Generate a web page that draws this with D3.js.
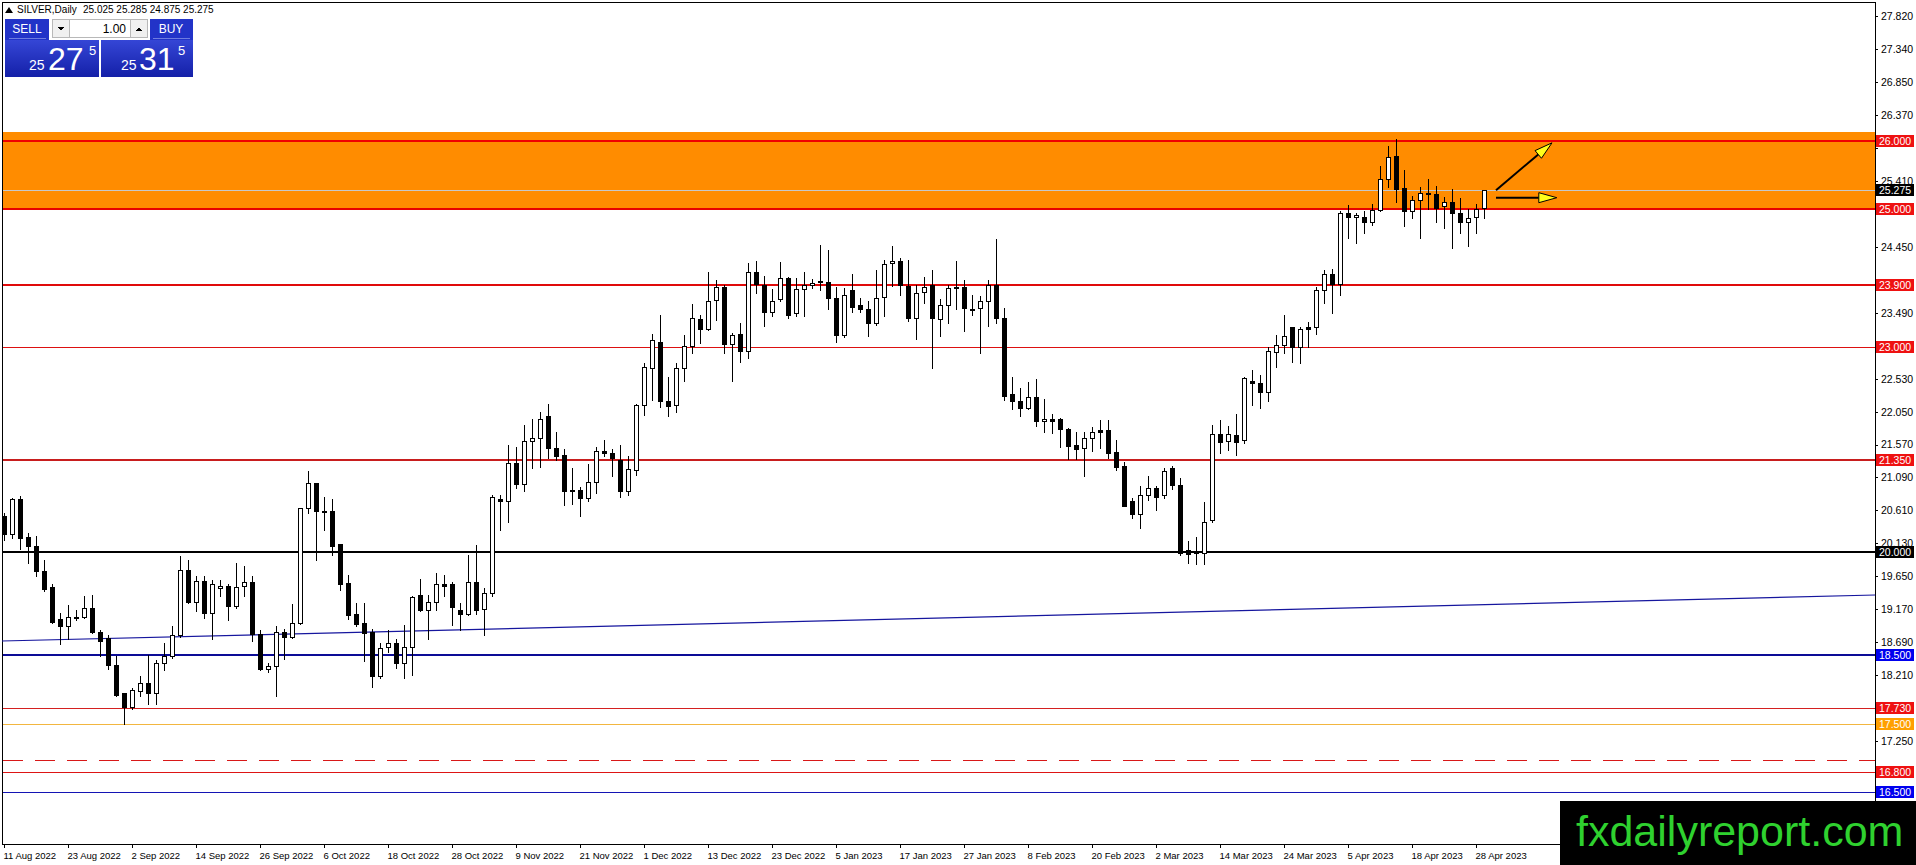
<!DOCTYPE html>
<html>
<head>
<meta charset="utf-8">
<script src="https://cdn.jsdelivr.net/npm/d3@7/dist/d3.min.js"></script>
<style>
  html, body { margin: 0; padding: 0; background: #fff; overflow: hidden; }
  svg { display: block; font-family: "Liberation Sans", Arial, sans-serif; }
</style>
</head>
<body>
<svg id="vis" width="1916" height="865"></svg>
<script>
// SILVER daily bars, 11 Aug 2022 .. 1 May 2023
const opens = [
  20.53, 20.26, 20.77, 20.22, 20.09, 19.73, 19.50, 19.02, 18.93, 19.05,
  19.06, 19.19, 18.84, 18.75, 18.36, 17.95, 17.74, 17.97, 18.09, 17.95,
  18.38, 18.48, 18.80, 19.74, 19.27, 19.58, 19.11, 19.48, 19.51, 19.21,
  19.51, 19.57, 18.81, 18.30, 18.34, 18.84, 18.76, 18.97, 20.64, 21.01,
  20.60, 20.60, 20.12, 19.55, 19.10, 18.97, 18.83, 18.19, 18.62, 18.67,
  18.39, 18.62, 19.37, 19.16, 19.28, 19.54, 19.54, 19.16, 19.10, 19.57,
  19.17, 19.40, 20.77, 20.74, 21.30, 20.99, 21.62, 21.66, 21.98, 21.52,
  21.42, 20.91, 20.91, 20.79, 21.03, 21.47, 21.45, 21.35, 20.89, 21.20,
  22.15, 22.69, 23.06, 22.20, 22.14, 22.69, 23.01, 23.40, 23.25, 23.68,
  23.87, 23.03, 23.18, 22.94, 24.08, 23.89, 23.50, 23.69, 24.00, 23.49,
  23.84, 23.90, 23.95, 23.94, 23.71, 23.17, 23.83, 23.61, 23.55, 23.35,
  23.72, 24.22, 24.25, 23.88, 23.41, 23.79, 23.89, 23.40, 23.61, 23.87,
  23.87, 23.55, 23.56, 23.66, 23.89, 23.41, 22.31, 22.21, 22.10, 22.26,
  21.91, 21.94, 21.94, 21.80, 21.57, 21.52, 21.67, 21.78, 21.78, 21.46,
  21.26, 20.74, 20.56, 20.84, 20.93, 20.83, 21.23, 20.98, 20.03, 19.99,
  19.99, 20.47, 21.73, 21.62, 21.71, 21.63, 22.49, 22.47, 22.33, 22.92,
  23.02, 23.28, 23.00, 23.28, 23.28, 23.83, 24.06, 23.91, 24.94, 24.89,
  24.89, 24.81, 24.99, 25.44, 25.78, 25.31, 24.98, 25.13, 25.24, 25.23,
  25.05, 25.11, 24.95, 24.81, 24.89, 25.025
];
const highs = [
  20.57, 20.79, 20.82, 20.28, 20.24, 19.89, 19.53, 19.11, 19.23, 19.16,
  19.36, 19.38, 18.87, 18.80, 18.48, 17.95, 18.02, 18.19, 18.50, 18.43,
  18.67, 18.92, 19.95, 19.89, 19.65, 19.65, 19.60, 19.60, 19.53, 19.84,
  19.80, 19.66, 18.87, 18.38, 18.92, 18.88, 19.24, 20.65, 21.18, 21.01,
  20.81, 20.77, 20.12, 19.67, 19.26, 19.26, 18.88, 18.67, 18.87, 18.73,
  18.94, 19.36, 19.61, 19.38, 19.70, 19.67, 19.57, 19.26, 19.96, 20.11,
  19.48, 20.84, 20.84, 21.57, 21.54, 21.85, 21.95, 22.05, 22.16, 21.75,
  21.50, 21.23, 20.95, 21.28, 21.54, 21.64, 21.50, 21.57, 21.40, 22.16,
  22.76, 23.18, 23.46, 22.56, 22.76, 23.17, 23.62, 23.46, 24.08, 23.97,
  23.90, 23.20, 23.34, 24.22, 24.24, 24.03, 23.84, 24.23, 24.01, 24.00,
  24.09, 23.98, 24.48, 24.40, 23.87, 23.85, 24.05, 23.71, 23.66, 24.12,
  24.26, 24.46, 24.29, 24.26, 23.89, 24.01, 24.11, 23.69, 23.89, 24.24,
  23.97, 23.75, 23.74, 23.97, 24.57, 23.56, 22.56, 22.39, 22.48, 22.52,
  22.23, 22.02, 21.96, 21.81, 21.75, 21.75, 21.83, 21.93, 21.93, 21.64,
  21.32, 20.79, 20.96, 21.11, 20.97, 21.23, 21.26, 21.08, 20.17, 20.22,
  20.73, 21.85, 21.93, 21.84, 22.02, 22.56, 22.66, 22.58, 23.00, 23.17,
  23.46, 23.29, 23.29, 23.36, 23.87, 24.11, 24.13, 24.98, 25.07, 24.95,
  24.98, 25.08, 25.63, 25.92, 26.02, 25.57, 25.20, 25.33, 25.44, 25.34,
  25.18, 25.29, 25.16, 25.00, 25.08, 25.285
];
const lows = [
  20.18, 20.21, 20.04, 19.85, 19.65, 19.43, 18.97, 18.66, 18.73, 19.01,
  19.04, 18.82, 18.48, 18.29, 17.90, 17.50, 17.71, 17.90, 17.78, 17.78,
  18.28, 18.46, 18.77, 19.26, 19.14, 19.04, 18.73, 19.36, 19.01, 19.19,
  19.36, 18.71, 18.28, 18.26, 17.91, 18.44, 18.75, 18.96, 20.57, 19.89,
  20.32, 19.96, 19.45, 19.02, 18.92, 18.41, 18.03, 18.17, 18.55, 18.31,
  18.17, 18.21, 19.14, 18.73, 19.16, 19.36, 18.94, 18.87, 19.09, 19.10,
  18.80, 19.36, 20.33, 20.44, 20.94, 20.90, 21.23, 21.24, 21.37, 21.35,
  20.69, 20.71, 20.53, 20.74, 20.86, 21.40, 21.11, 20.81, 20.84, 21.13,
  22.00, 22.22, 22.12, 21.98, 22.04, 22.49, 22.90, 23.05, 23.24, 23.39,
  22.90, 22.49, 22.77, 22.83, 23.78, 23.30, 23.45, 23.66, 23.41, 23.45,
  23.45, 23.86, 23.82, 23.54, 23.06, 23.14, 23.51, 23.51, 23.15, 23.32,
  23.44, 23.88, 23.75, 23.37, 23.11, 23.64, 22.69, 23.15, 23.34, 23.55,
  23.23, 23.46, 22.91, 23.30, 23.35, 22.22, 22.09, 21.98, 22.09, 21.84,
  21.76, 21.74, 21.54, 21.36, 21.36, 21.11, 21.48, 21.52, 21.37, 21.20,
  20.67, 20.50, 20.35, 20.76, 20.61, 20.79, 20.92, 19.96, 19.84, 19.83,
  19.83, 20.44, 21.44, 21.49, 21.42, 21.60, 22.15, 22.10, 22.21, 22.70,
  22.91, 22.78, 22.76, 23.00, 23.18, 23.63, 23.49, 23.75, 24.58, 24.51,
  24.65, 24.77, 24.97, 25.33, 25.11, 24.75, 24.87, 24.58, 25.00, 24.82,
  24.73, 24.43, 24.66, 24.46, 24.65, 24.875
];
const closes = [
  20.26, 20.77, 20.21, 20.09, 19.72, 19.47, 18.98, 18.93, 19.06, 19.06,
  19.19, 18.84, 18.71, 18.36, 17.92, 17.75, 17.99, 18.09, 17.95, 18.38,
  18.48, 18.80, 19.74, 19.27, 19.58, 19.11, 19.53, 19.51, 19.21, 19.49,
  19.57, 18.81, 18.29, 18.34, 18.83, 18.76, 18.97, 20.64, 21.01, 20.60,
  20.58, 20.09, 19.54, 19.09, 18.96, 18.82, 18.20, 18.60, 18.67, 18.39,
  18.62, 19.35, 19.16, 19.28, 19.53, 19.51, 19.20, 19.10, 19.56, 19.16,
  19.40, 20.80, 20.74, 21.30, 20.99, 21.62, 21.66, 21.95, 21.52, 21.41,
  20.90, 20.90, 20.79, 21.03, 21.47, 21.44, 21.37, 20.89, 21.21, 22.15,
  22.70, 23.10, 22.20, 22.13, 22.69, 23.01, 23.41, 23.25, 23.67, 23.87,
  23.03, 23.17, 22.93, 24.08, 23.91, 23.50, 23.66, 24.00, 23.46, 23.84,
  23.90, 23.93, 23.96, 23.71, 23.17, 23.75, 23.58, 23.55, 23.35, 23.71,
  24.21, 24.25, 23.89, 23.41, 23.78, 23.87, 23.41, 23.61, 23.85, 23.85,
  23.56, 23.53, 23.66, 23.89, 23.41, 22.28, 22.20, 22.10, 22.26, 21.91,
  21.94, 21.92, 21.80, 21.55, 21.50, 21.66, 21.75, 21.76, 21.45, 21.24,
  20.68, 20.56, 20.84, 20.93, 20.81, 21.19, 20.98, 19.99, 19.98, 20.00,
  20.44, 21.73, 21.61, 21.73, 21.61, 22.54, 22.47, 22.33, 22.93, 23.02,
  23.15, 23.00, 23.26, 23.26, 23.83, 24.06, 23.91, 24.94, 24.89, 24.92,
  24.81, 24.99, 25.44, 25.76, 25.29, 24.98, 25.14, 25.24, 25.22, 25.02,
  25.11, 24.95, 24.81, 24.87, 25.00, 25.275
];

const dateLabels = [
  '11 Aug 2022', '23 Aug 2022', '2 Sep 2022', '14 Sep 2022', '26 Sep 2022', '6 Oct 2022',
  '18 Oct 2022', '28 Oct 2022', '9 Nov 2022', '21 Nov 2022', '1 Dec 2022', '13 Dec 2022',
  '23 Dec 2022', '5 Jan 2023', '17 Jan 2023', '27 Jan 2023', '8 Feb 2023', '20 Feb 2023',
  '2 Mar 2023', '14 Mar 2023', '24 Mar 2023', '5 Apr 2023', '18 Apr 2023', '28 Apr 2023'
];
const dateLabelBars = dateLabels.map((d, i) => i * 8);

const priceTicks = [
  27.82, 27.34, 26.85, 26.37, 25.89, 25.41, 24.93, 24.45, 23.97, 23.49, 23.01, 22.53, 22.05,
  21.57, 21.09, 20.61, 20.13, 19.65, 19.17, 18.69, 18.21, 17.73, 17.25, 16.77, 16.29
];

// horizontal levels drawn on the chart
const levelPrices = [26.0, 25.0, 23.9, 23.0, 21.35, 20.0, 18.5, 17.73, 17.5, 16.8, 16.5];
const dashedLevel = 16.97;
const zone = [24.985, 26.128];
const trendFrom = [-0.25, 18.705];
const trendTo = [233.9, 19.376];
const arrows = [
  {from: [186.5, 25.28], to: [193.5, 25.97]},
  {from: [186.5, 25.17], to: [194.1, 25.17]},
];
const symbol = 'SILVER,Daily';
const lotSize = '1.00';
const spread = 0.04;

const levelStyle = {
  26.0:  {line: '#f00000', w: 2, box: '#ee1111'},
  25.0:  {line: '#e80000', w: 2, box: '#ee1111'},
  23.9:  {line: '#e00a0a', w: 2, box: '#ee1111'},
  23.0:  {line: '#dd1111', w: 1, box: '#ee1111'},
  21.35: {line: '#c81e1e', w: 2, box: '#ee1111'},
  20.0:  {line: '#000000', w: 2, box: '#000000'},
  18.5:  {line: '#0c0c96', w: 2, box: '#0000ee'},
  17.73: {line: '#d42020', w: 1, box: '#ee1111'},
  17.5:  {line: '#f2b640', w: 1, box: '#ffa000'},
  16.8:  {line: '#dd1515', w: 1, box: '#ee1111'},
  16.5:  {line: '#1414b4', w: 1, box: '#0000ee'},
};

const plotLeft = 2, plotRight = 1875, plotTop = 2, plotBottom = 844;
const logoTop = 801;

const vis = d3.select('#vis');
const x = d3.scaleLinear().domain([0, 185]).range([4, 1484]);
const y = d3.scaleLinear().domain([15.745, 28.053]).range([plotBottom, 0]);
const fmt = d3.format('.3f');
const py = p => Math.round(y(p));
const last = opens.length - 1;

// tick labels that sit under a price tag or the logo are hidden, as in the terminal
const tagPrices = levelPrices.concat([closes[last]]);
const visibleTicks = priceTicks.filter(t =>
  tagPrices.every(p => Math.abs(y(t) - y(p)) > 8) && y(t) < logoTop - 8);

// orange zone
vis.append('rect')
    .attr('x', plotLeft)
    .attr('y', py(zone[1]))
    .attr('width', plotRight - plotLeft)
    .attr('height', py(zone[0]) - py(zone[1]))
    .attr('fill', '#ff8c00');

// price axis
const yAxis = vis.append('g')
    .attr('transform', `translate(${plotRight},0)`)
    .call(d3.axisRight(y).tickValues(priceTicks).tickFormat(fmt).tickSize(3).tickPadding(3))
    .call(g => g.select('.domain').remove());
yAxis.selectAll('.tick text')
    .filter(d => visibleTicks.indexOf(d) < 0)
    .remove();
yAxis.selectAll('text')
    .attr('font-family', '"Liberation Sans", Arial, sans-serif')
    .attr('font-size', 10.5)
    .attr('fill', '#000');
yAxis.selectAll('line').attr('stroke', '#000').attr('shape-rendering', 'crispEdges');

// date axis
const xAxis = vis.append('g')
    .attr('transform', `translate(0,${plotBottom})`)
    .call(d3.axisBottom(x).tickValues(dateLabelBars).tickFormat((d, i) => dateLabels[i]).tickSize(4).tickPadding(4))
    .call(g => g.select('.domain').remove());
xAxis.selectAll('text')
    .attr('text-anchor', 'start')
    .attr('dx', -1)
    .attr('font-family', '"Liberation Sans", Arial, sans-serif')
    .attr('font-size', 9.5)
    .attr('fill', '#000');
xAxis.selectAll('line').attr('stroke', '#000').attr('shape-rendering', 'crispEdges');

// frame
vis.append('rect')
    .attr('x', plotLeft + 0.5)
    .attr('y', plotTop + 0.5)
    .attr('width', plotRight - plotLeft)
    .attr('height', plotBottom - plotTop)
    .attr('fill', 'none')
    .attr('stroke', '#000')
    .attr('shape-rendering', 'crispEdges');

// level lines
const levels = vis.append('g').attr('shape-rendering', 'crispEdges');
levelPrices.forEach(p => {
  const s = levelStyle[p];
  const yy = s.w === 1 ? py(p) + 0.5 : py(p);
  levels.append('line')
      .attr('x1', plotLeft + 1).attr('x2', plotRight)
      .attr('y1', yy).attr('y2', yy)
      .attr('stroke', s.line)
      .attr('stroke-width', s.w);
});
levels.append('line')
    .attr('x1', plotLeft + 1).attr('x2', plotRight)
    .attr('y1', py(dashedLevel) + 0.5).attr('y2', py(dashedLevel) + 0.5)
    .attr('stroke', '#d81818')
    .attr('stroke-dasharray', '20,12');

// current price line
levels.append('line')
    .attr('x1', plotLeft + 1).attr('x2', plotRight)
    .attr('y1', py(closes[last]) + 0.5).attr('y2', py(closes[last]) + 0.5)
    .attr('stroke', '#c8c8c8');

// trend line
vis.append('line')
    .attr('x1', x(trendFrom[0])).attr('y1', y(trendFrom[1]))
    .attr('x2', x(trendTo[0])).attr('y2', y(trendTo[1]))
    .attr('stroke', '#16169e')
    .attr('stroke-width', 1.2);

// candles
const bars = d3.range(opens.length).map(i => ({
  i: i, o: opens[i], h: highs[i], l: lows[i], c: closes[i],
}));
const candles = vis.append('g').attr('shape-rendering', 'crispEdges');
candles.selectAll('line')
  .data(bars).enter().append('line')
    .attr('x1', d => x(d.i) + 0.5)
    .attr('x2', d => x(d.i) + 0.5)
    .attr('y1', d => py(d.h))
    .attr('y2', d => py(d.l) + 1)
    .attr('stroke', '#000');
candles.selectAll('rect')
  .data(bars).enter().append('rect')
    .attr('x', d => x(d.i) - 1.5)
    .attr('width', 4)
    .attr('y', d => py(Math.max(d.o, d.c)) + 0.5)
    .attr('height', d => Math.max(1, Math.abs(py(d.o) - py(d.c))))
    .attr('fill', d => d.c >= d.o ? '#fff' : '#000')
    .attr('stroke', '#000');

// arrows
const arrowG = vis.append('g');
arrows.forEach(a => {
  const x1 = x(a.from[0]), y1 = y(a.from[1]);
  const x2 = x(a.to[0]), y2 = y(a.to[1]);
  const ang = Math.atan2(y2 - y1, x2 - x1);
  const len = 18, half = 5;
  const bx = x2 - len * Math.cos(ang), by = y2 - len * Math.sin(ang);
  arrowG.append('line')
      .attr('x1', x1).attr('y1', y1).attr('x2', bx).attr('y2', by)
      .attr('stroke', '#000').attr('stroke-width', 2);
  const pts = [
    [x2, y2],
    [bx + half * Math.sin(ang), by - half * Math.cos(ang)],
    [bx - half * Math.sin(ang), by + half * Math.cos(ang)],
  ];
  arrowG.append('polygon')
      .attr('points', pts.map(p => p.join(',')).join(' '))
      .attr('fill', '#ffff1a')
      .attr('stroke', '#000')
      .attr('stroke-width', 1);
});

// price tags on the right
function priceTag(p, bg) {
  const yy = py(p);
  vis.append('rect')
      .attr('x', plotRight + 1).attr('y', yy - 6)
      .attr('width', 38).attr('height', 12)
      .attr('fill', bg);
  vis.append('text')
      .attr('x', plotRight + 4).attr('y', yy + 4)
      .attr('font-size', 10.5)
      .attr('fill', '#fff')
      .text(fmt(p));
}
levelPrices.forEach(p => priceTag(p, levelStyle[p].box));
priceTag(closes[last], '#000');

// header
const header = vis.append('g').attr('font-size', 10).attr('fill', '#000');
header.append('path').attr('d', 'M5,13 L9,7 L13,13 Z').attr('fill', '#000');
header.append('text').attr('x', 17).attr('y', 13).text(symbol);
header.append('text').attr('x', 83).attr('y', 13)
    .text([opens[last], highs[last], lows[last], closes[last]].map(fmt).join(' '));

// one-click trading panel
const defs = vis.append('defs');
const grad = defs.append('linearGradient').attr('id', 'panelBlue').attr('x1', 0).attr('x2', 0).attr('y1', 0).attr('y2', 1);
grad.append('stop').attr('offset', 0).attr('stop-color', '#3546d6');
grad.append('stop').attr('offset', 1).attr('stop-color', '#1420a8');

const panel = vis.append('g').attr('shape-rendering', 'crispEdges');
panel.append('rect').attr('x', 5).attr('y', 19).attr('width', 44).attr('height', 58).attr('fill', '#2233c8');
panel.append('rect').attr('x', 150).attr('y', 19).attr('width', 43).attr('height', 58).attr('fill', '#2233c8');
panel.append('rect').attr('x', 5).attr('y', 40).attr('width', 94).attr('height', 37).attr('fill', 'url(#panelBlue)');
panel.append('rect').attr('x', 101).attr('y', 40).attr('width', 92).attr('height', 37).attr('fill', 'url(#panelBlue)');
panel.append('line').attr('x1', 9).attr('x2', 46).attr('y1', 38.5).attr('y2', 38.5).attr('stroke', '#6f7ce0');
panel.append('line').attr('x1', 153).attr('x2', 190).attr('y1', 38.5).attr('y2', 38.5).attr('stroke', '#6f7ce0');
panel.append('rect').attr('x', 52.5).attr('y', 19.5).attr('width', 95).attr('height', 18)
    .attr('fill', '#fff').attr('stroke', '#b8b8b8');
panel.append('rect').attr('x', 52.5).attr('y', 19.5).attr('width', 17).attr('height', 18)
    .attr('fill', '#f0f0f0').attr('stroke', '#b8b8b8');
panel.append('rect').attr('x', 130.5).attr('y', 19.5).attr('width', 17).attr('height', 18)
    .attr('fill', '#f0f0f0').attr('stroke', '#b8b8b8');
panel.append('path').attr('d', 'M58,27 L64,27 L61,31 Z').attr('fill', '#000');
panel.append('path').attr('d', 'M136,31 L142,31 L139,27 Z').attr('fill', '#000');
panel.append('text').attr('x', 126).attr('y', 32.5).attr('text-anchor', 'end')
    .attr('font-size', 12).attr('fill', '#000').text(lotSize);
panel.append('text').attr('x', 27).attr('y', 33).attr('text-anchor', 'middle')
    .attr('font-size', 12).attr('fill', '#fff').text('SELL');
panel.append('text').attr('x', 171).attr('y', 33).attr('text-anchor', 'middle')
    .attr('font-size', 12).attr('fill', '#fff').text('BUY');

function bigPrice(p, xBig, xSmall, xSup) {
  const s = fmt(p);
  const g = panel.append('g').attr('fill', '#fff');
  g.append('text').attr('x', xSmall).attr('y', 70).attr('font-size', 14).text(s.slice(0, 2));
  g.append('text').attr('x', xBig).attr('y', 70).attr('font-size', 32).text(s.slice(3, 5));
  g.append('text').attr('x', xSup).attr('y', 55).attr('font-size', 13).text(s.slice(5));
}
bigPrice(closes[last], 48, 29, 89);
bigPrice(closes[last] + spread, 139, 121, 178);

// watermark
vis.append('rect')
    .attr('x', 1560).attr('y', logoTop)
    .attr('width', 356).attr('height', 64)
    .attr('fill', '#000');
vis.append('text')
    .attr('x', 1576).attr('y', 846)
    .attr('font-size', 43)
    .attr('fill', '#2fd12f')
    .text('fxdailyreport.com');
</script>
</body>
</html>
